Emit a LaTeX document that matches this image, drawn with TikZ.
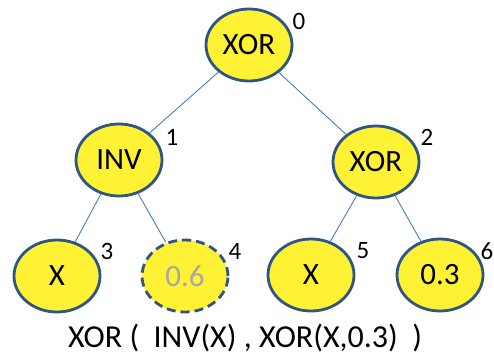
\documentclass[tikz,border=0pt]{standalone}
\usepackage{fontspec}
\setmainfont{Carlito}
\usetikzlibrary{shapes.geometric}
\definecolor{nfill}{HTML}{FFF133}
\definecolor{ndraw}{HTML}{2F5583}
\definecolor{edge}{HTML}{4A7EBB}
\definecolor{grey6}{HTML}{A6A6A6}
\begin{document}
\begin{tikzpicture}[x=1pt,y=-1pt,
  gnode/.style={ellipse, draw=ndraw, line width=2.8pt, fill=nfill, minimum width=86pt, minimum height=72pt, inner sep=0pt, font=\fontsize{31}{36}\selectfont},
  idx/.style={font=\fontsize{25}{30}\selectfont, inner sep=0pt},
  conn/.style={draw=edge, line width=0.9pt}]
\useasboundingbox (0,0) rectangle (494,356);
\node[gnode] (n0) at (249,45) {XOR};
\node[gnode] (n1) at (119,160) {INV};
\node[gnode] (n2) at (376,162) {XOR};
\node[gnode] (n3) at (57,276) {X};
\node[gnode, dashed, dash pattern=on 9pt off 5pt, text=grey6] (n4) at (185,276) {0.6};
\node[gnode] (n5) at (311,275) {X};
\node[gnode] (n6) at (440,275) {0.3};
\draw[conn] (n0) -- (n1);
\draw[conn] (n0) -- (n2);
\draw[conn] (n1) -- (n3);
\draw[conn] (n1) -- (n4);
\draw[conn] (n2) -- (n5);
\draw[conn] (n2) -- (n6);
\node[idx] (l0) at (299,21) {0};
\node[idx] (l1) at (172,137) {1};
\node[idx] (l2) at (427,137) {2};
\node[idx] (l3) at (107,251) {3};
\node[idx] (l4) at (235,251) {4};
\node[idx] (l5) at (363,251) {5};
\node[idx] (l6) at (487,251) {6};
\node[font=\fontsize{32}{36}\selectfont, inner sep=0pt] (expr) at (245,338) {XOR (\ \ INV(X) , XOR(X,0.3)\ \ )};
\end{tikzpicture}
\end{document}
